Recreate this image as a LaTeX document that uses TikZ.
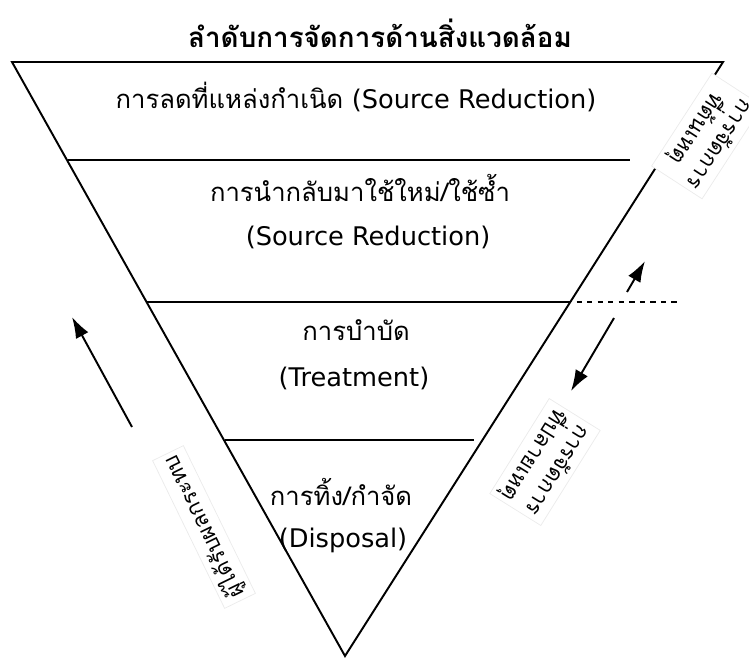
\documentclass[tikz,border=0pt]{standalone}
\usepackage{fontspec}
\usetikzlibrary{arrows.meta}
\newfontfamily\thaifont[Script=Thai]{Loma}
\newfontfamily\latinfont{DejaVu Sans}
\newcommand{\lat}[1]{{\latinfont #1}}
\begin{document}
\begin{tikzpicture}[x=0.02cm,y=-0.02cm]
       \tikzset{>={Latex[length=12pt,width=8pt]}}
       \tikzset{lbl/.style={font=\thaifont\fontsize{14.6}{17}\selectfont, align=center}}
       \tikzset{tag/.style={font=\thaifont\fontsize{12.5}{16}\selectfont, align=center, fill=white, draw=black!8, inner sep=2.5pt}}
       \tikzset{edge/.style={line width=1.1pt}}
       \useasboundingbox (0,0) rectangle (749,666);

       \draw[edge] (12,62) -- (723,62) -- (345,656) -- cycle;
       \draw[edge] (68,160) -- (630,160);
       \draw[edge] (147,302) -- (566,302);
       \draw[edge, dashed] (566,302) -- (680,302);
       \draw[edge] (225,440) -- (474,440);

       \node[lbl, font=\thaifont\bfseries\fontsize{15.8}{18}\selectfont] (title) at (380,33) {ลำดับการจัดการด้านสิ่งแวดล้อม};
       \node[lbl] (reduce) at (356,97) {การลดที่แหล่งกำเนิด \lat{(Source Reduction)}};
       \node[lbl] (reuse) at (360,188) {การนำกลับมาใช้ใหม่/ใช้ซ้ำ};
       \node[lbl] (reuse2) at (368,237) {\lat{(Source Reduction)}};
       \node[lbl] (treat) at (356,330) {การบำบัด};
       \node[lbl] (treat2) at (354,378) {\lat{(Treatment)}};
       \node[lbl] (dispose) at (341,492) {การทิ้ง/กำจัด};
       \node[lbl] (dispose2) at (343,540) {\lat{(Disposal)}};

       \node[tag, rotate=237] (source) at (707,136) {การจัดการ\\ที่ต้นเหตุ};
       \node[tag, rotate=238] (endpipe) at (545,462) {การจัดการ\\ที่ปลายเหตุ};
       \node[tag, rotate=116] (people) at (204,527) {ผู้ได้รับผลกระทบ};

       \coordinate (u1) at (627,292);
       \coordinate (u2) at (645,261);
       \coordinate (d1) at (614,318);
       \coordinate (d2) at (571,391);
       \coordinate (l1) at (132,427);
       \coordinate (l2) at (72,317);
       \draw[edge, ->] (u1) -- (u2);
       \draw[edge, ->] (d1) -- (d2);
       \draw[edge, ->] (l1) -- (l2);
\end{tikzpicture}
\end{document}
